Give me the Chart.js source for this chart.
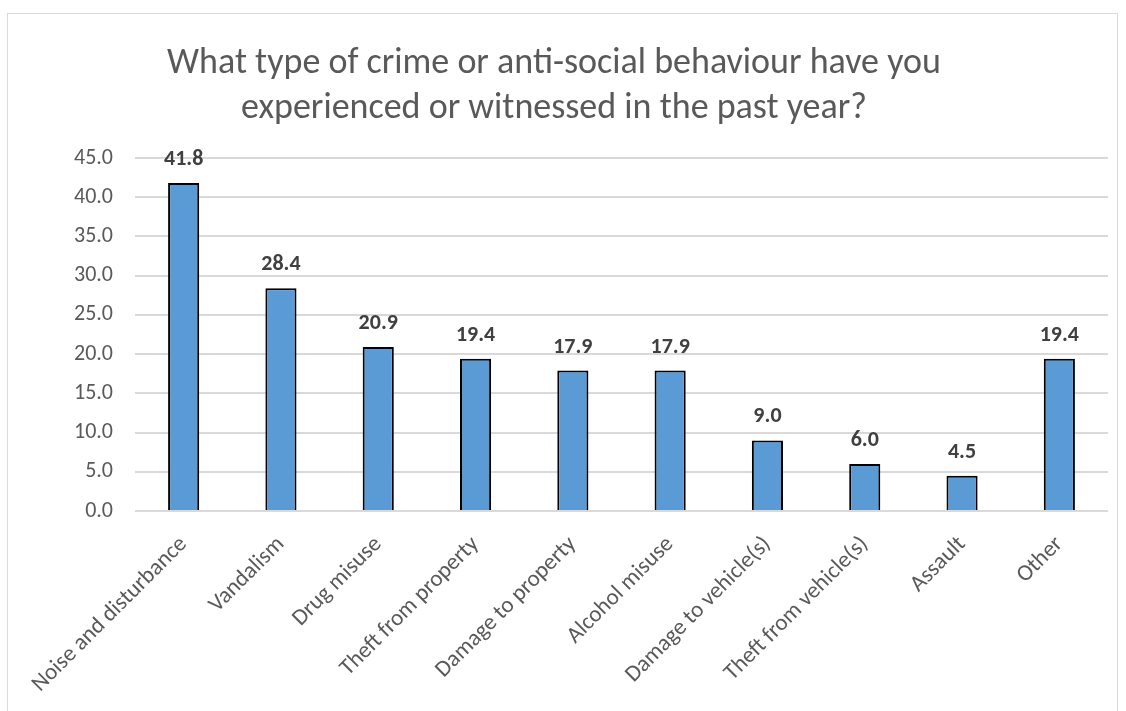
<!DOCTYPE html>
<html>
<head>
<meta charset="utf-8">
<script src="https://cdn.jsdelivr.net/npm/chart.js@4/dist/chart.umd.min.js"></script>
<style>
  html, body { margin: 0; padding: 0; background: #fff; }
  #wrap { position: relative; width: 1126px; height: 711px; overflow: hidden; }
  #frame { position: absolute; left: 7px; top: 13px; width: 1111px; height: 720px; border: 1px solid #d9d9d9; box-sizing: border-box; }
  canvas { position: absolute; left: 0; top: 0; }
</style>
</head>
<body>
<div id="wrap">
  <div id="frame"></div>
  <canvas id="chart" width="1126" height="711"></canvas>
</div>
<script>
const titleLines = [
  'What type of crime or anti-social behaviour have you',
  'experienced or witnessed in the past year?',
];
const categories = [
  'Noise and disturbance',
  'Vandalism',
  'Drug misuse',
  'Theft from property',
  'Damage to property',
  'Alcohol misuse',
  'Damage to vehicle(s)',
  'Theft from vehicle(s)',
  'Assault',
  'Other',
];
const percentages = [41.8, 28.4, 20.9, 19.4, 17.9, 17.9, 9.0, 6.0, 4.5, 19.4];
const yTicks = { min: 0, max: 45, step: 5 };

const fontFamily = "Carlito, Lato, 'Open Sans', sans-serif";

// value labels above each bar
const barLabels = {
  id: 'barLabels',
  afterDatasetsDraw(chart) {
    const ctx = chart.ctx;
    const meta = chart.getDatasetMeta(0);
    ctx.save();
    ctx.font = `bold 22px ${fontFamily}`;
    ctx.fillStyle = '#404040';
    ctx.textAlign = 'center';
    ctx.textBaseline = 'alphabetic';
    meta.data.forEach((bar, i) => {
      ctx.fillText(percentages[i].toFixed(1), bar.x, bar.y - 18);
    });
    ctx.restore();
  },
};

const ctx = document.getElementById('chart').getContext('2d');
new Chart(ctx, {
  type: 'bar',
  data: {
    labels: categories,
    datasets: [{
      data: percentages,
      backgroundColor: '#5b9bd5',
      borderColor: '#000000',
      borderWidth: 2,
      barPercentage: 0.32,
      categoryPercentage: 1,
    }],
  },
  options: {
    responsive: false,
    animation: false,
    layout: { padding: { left: 0, right: 18, top: 0, bottom: 0 } },
    plugins: {
      legend: { display: false },
      tooltip: { enabled: false },
      title: {
        display: true,
        text: titleLines,
        color: '#595959',
        font: { family: fontFamily, size: 36, weight: 'normal', lineHeight: 1.25 },
        padding: { top: 41, bottom: 27 },
      },
    },
    scales: {
      x: {
        grid: { display: false },
        border: { display: false },
        ticks: {
          color: '#595959',
          font: { family: fontFamily, size: 23 },
          minRotation: 45,
          maxRotation: 45,
          padding: 12,
          autoSkip: false,
        },
        afterFit(scale) { scale.height = 200; },
      },
      y: {
        min: yTicks.min,
        max: yTicks.max,
        grid: { color: '#d9d9d9', lineWidth: 2, drawTicks: false },
        border: { display: false },
        ticks: {
          stepSize: yTicks.step,
          color: '#595959',
          font: { family: fontFamily, size: 22 },
          padding: 22,
          callback: (v) => Number(v).toFixed(1),
        },
        afterFit(scale) { scale.width = 135; },
      },
    },
  },
  plugins: [barLabels],
});
</script>
</body>
</html>
